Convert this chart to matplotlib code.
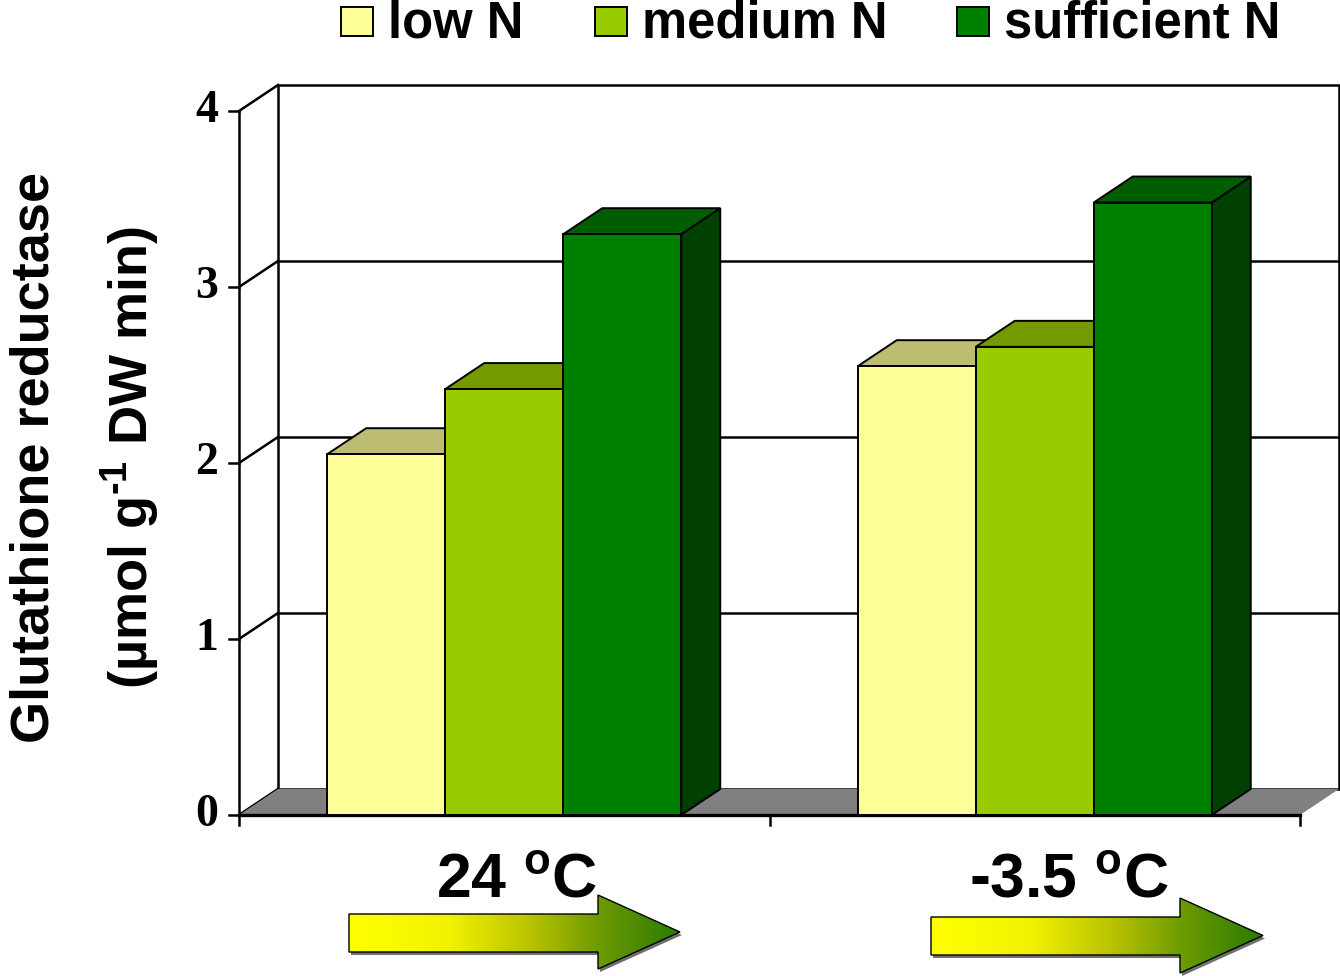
#!/usr/bin/env python3
"""
Glutathione reductase activity under three N supply levels at two
temperatures, drawn as a pseudo-3D column chart.
"""

import numpy as np
import matplotlib
matplotlib.use("Agg")
import matplotlib.pyplot as plt
from matplotlib.patches import Polygon, Rectangle
from matplotlib.colors import LinearSegmentedColormap

plt.rcParams["mathtext.fontset"] = "custom"
plt.rcParams["mathtext.rm"] = "Liberation Sans:bold"
plt.rcParams["mathtext.bf"] = "Liberation Sans:bold"

# ── Data ──
temps = [r"24 $^\mathbf{o}$C", r"-3.5 $^\mathbf{o}$C"]
series = ["low N", "medium N", "sufficient N"]
low_n = [2.05, 2.55]
medium_n = [2.42, 2.66]
sufficient_n = [3.30, 3.48]
y_ticks = [0, 1, 2, 3, 4]

# front / top / side shade for each series
FACE = ["#FFFF99", "#99CC00", "#008000"]
TOP = ["#BDBD72", "#749A00", "#005E00"]
SIDE = ["#8C8C55", "#557300", "#004000"]

SANS = "Liberation Sans"
SERIF = "Liberation Serif"

W, H = 1340, 976
fig = plt.figure(figsize=(W / 100, H / 100), dpi=100)

# front plane of the plot box, in pixels
X0, X1, Y0, Y1 = 239, 1300, 815, 111
ax = fig.add_axes([X0 / W, 1 - Y0 / H, (X1 - X0) / W, (Y0 - Y1) / H])
ncat = len(temps)
ymax = y_ticks[-1]
ax.set_xlim(0, ncat)
ax.set_ylim(0, ymax)
ax.axis("off")

px_x = ncat / (X1 - X0)      # data units per pixel
px_y = ymax / (Y0 - Y1)
DX, DY = 39 * px_x, 26 * px_y  # depth offset
LW = 1.8

# ── Walls and floor ──
ax.add_patch(Rectangle((DX, DY), ncat, ymax, facecolor="white",
                       edgecolor="black", lw=LW, clip_on=False, zorder=1))
for t in y_ticks[1:-1]:
    ax.plot([DX, ncat + DX], [t + DY, t + DY], color="black", lw=LW,
            clip_on=False, zorder=1.5)
for t in y_ticks:
    ax.plot([0, DX], [t, t + DY], color="black", lw=LW,
            clip_on=False, zorder=1.5)
    ax.plot([-10 * px_x, 0], [t, t], color="black", lw=LW, clip_on=False)
    ax.text(-21 * px_x, t, str(t), ha="right", va="center",
            family=SERIF, fontweight="bold", fontsize=33)
ax.add_patch(Polygon([(0, 0), (ncat, 0), (ncat + DX, DY), (DX, DY)],
                     closed=True, facecolor="#808080", edgecolor="none",
                     clip_on=False, zorder=2))
ax.plot([0, 0], [0, ymax], color="black", lw=LW, clip_on=False, zorder=2.5)
ax.plot([0, ncat], [0, 0], color="black", lw=LW + 0.6, clip_on=False,
        zorder=2.5)
for c in range(ncat + 1):
    ax.plot([c, c], [0, -10 * px_y], color="black", lw=LW, clip_on=False)

# ── Bars ──
BW = 118 * px_x
values = [low_n, medium_n, sufficient_n]
for i in range(ncat):
    start = i + 0.5 - 1.5 * BW
    for j, vals in enumerate(values):
        v = vals[i]
        xl, xr = start + j * BW, start + (j + 1) * BW
        z = 3 + i * 3 + j
        kw = dict(closed=True, edgecolor="black", lw=1.4, clip_on=False,
                  zorder=z)
        ax.add_patch(Polygon([(xr, 0), (xr + DX, DY), (xr + DX, v + DY),
                              (xr, v)], facecolor=SIDE[j], **kw))
        ax.add_patch(Polygon([(xl, v), (xr, v), (xr + DX, v + DY),
                              (xl + DX, v + DY)], facecolor=TOP[j], **kw))
        ax.add_patch(Rectangle((xl, 0), BW, v, facecolor=FACE[j],
                               edgecolor="black", lw=1.4, clip_on=False,
                               zorder=z))

# ── Overlay in pixel coordinates: legend, labels, arrows ──
deco = fig.add_axes([0, 0, 1, 1])
deco.set_xlim(0, W)
deco.set_ylim(H, 0)
deco.axis("off")

leg_sq = [341, 595, 957]
for name, color, x in zip(series, FACE, leg_sq):
    deco.add_patch(Rectangle((x, 7), 32, 29, facecolor=color,
                             edgecolor="black", lw=1.4))
    deco.text(x + 47, 37, name, ha="left", va="baseline", family=SANS,
              fontweight="bold", fontsize=36.5)

fig.text(35 / W, 1 - 457 / H, "Glutathione reductase", rotation=90,
         ha="center", va="center", family=SANS, fontweight="bold",
         fontsize=39)
fig.text(130 / W, 1 - 457 / H, r"(µmol g$^{\text{-1}}$ DW min)", rotation=90,
         ha="center", va="center", family=SANS, fontweight="bold",
         fontsize=39)

cat_x = [517, 1069]
for lab, x in zip(temps, cat_x):
    deco.text(x, 897, lab, ha="center", va="baseline", family=SANS,
              fontweight="bold", fontsize=45)

arrow_cmap = LinearSegmentedColormap.from_list(
    "temp", [(0, "#FFFF00"), (0.3, "#F2F200"), (0.55, "#B8C200"),
             (0.75, "#6F9C00"), (1, "#2A7A00")])
grad = np.linspace(0, 1, 256)[None, :]
arrows = [
    (349, 598, 680, 914, 952, 895, 969),
    (931, 1180, 1263, 917, 955, 898, 973),
]
for xa, xb, xt, bt, bb, ht, hb in arrows:
    yc = (ht + hb) / 2
    pts = [(xa, bt), (xb, bt), (xb, ht), (xt, yc), (xb, hb), (xb, bb),
           (xa, bb)]
    shadow = Polygon([(x + 2, y + 3) for x, y in pts], closed=True,
                     facecolor="#707070", edgecolor="none", zorder=1)
    deco.add_patch(shadow)
    outline = Polygon(pts, closed=True, facecolor="none", edgecolor="black",
                      lw=1.0, zorder=3)
    deco.add_patch(outline)
    im = deco.imshow(grad, cmap=arrow_cmap, aspect="auto",
                     extent=[xa, xt, hb, ht], zorder=2)
    im.set_clip_path(outline)

deco.set_xlim(0, W)
deco.set_ylim(H, 0)

fig.savefig("out.png", dpi=100, facecolor="white")
